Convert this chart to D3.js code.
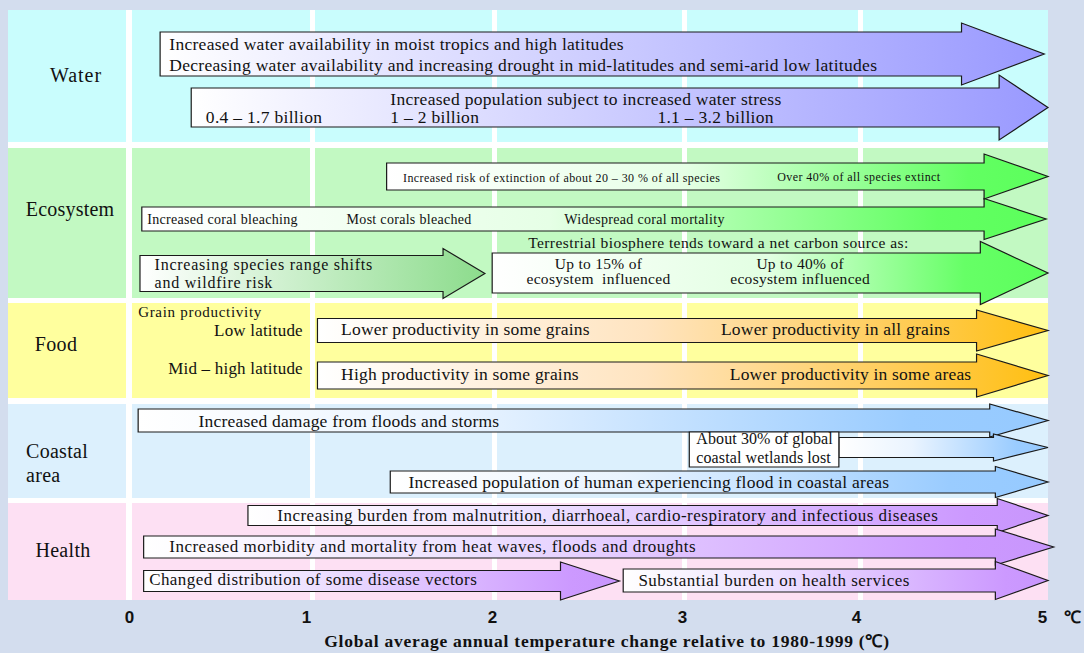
<!DOCTYPE html>
<html><head><meta charset="utf-8">
<script src="https://cdn.jsdelivr.net/npm/d3@7"></script>
<style>
html,body{margin:0;padding:0;background:#d3ddee;}
svg{display:block;}
</style></head><body>
<svg id="chart" width="1084" height="653"></svg>
<script>
// ---------------- DATA ----------------
const sectors = ["Water", "Ecosystem", "Food", "Coastal area", "Health"];
const sectorLabelLines = [["Water"], ["Ecosystem"], ["Food"], ["Coastal", "area"], ["Health"]];
const tickValues = [0, 1, 2, 3, 4, 5];
const axisTitle = "Global average annual temperature change relative to 1980-1999 (℃)";
const unitLabel = "℃";

// arrows (°C): start of body, start of head, tip
const arrowSector = ["Water", "Water", "Ecosystem", "Ecosystem", "Ecosystem", "Ecosystem", "Food", "Food",
  "Coastal area", "Coastal area", "Coastal area", "Coastal area", "Health", "Health", "Health", "Health"];
const arrowStart = [0.17, 0.34, 1.41, 0.07, 0.06, 1.99, 1.03, 1.03, 0.05, 3.88, 3.03, 1.43, 0.65, 0.08, 0.08, 2.68];
const arrowHeadAt = [4.54, 4.74, 4.66, 4.66, 1.72, 4.64, 4.62, 4.62, 4.69, 4.71, 3.88, 4.72, 4.73, 4.72, 2.35, 4.72];
const arrowEnd = [4.98, 5.0, 5.0, 4.99, 1.95, 5.0, 5.0, 5.0, 5.0, 5.0, 3.88, 5.0, 5.0, 5.03, 2.66, 5.0];

// annotations (°C position of the text)
const noteText = [
  "Increased water availability in moist tropics and high latitudes",
  "Decreasing water availability and increasing drought in mid-latitudes and semi-arid low latitudes",
  "Increased population subject to increased water stress",
  "0.4 – 1.7 billion", "1 – 2 billion", "1.1 – 3.2 billion",
  "Increased risk of extinction of about 20 – 30 % of all species",
  "Over 40% of all species extinct",
  "Increased coral bleaching", "Most corals bleached", "Widespread coral mortality",
  "Increasing species range shifts", "and wildfire risk",
  "Terrestrial biosphere tends toward a net carbon source as:",
  "Up to 15% of", "ecosystem  influenced", "Up to 40% of", "ecosystem influenced",
  "Grain productivity", "Low latitude", "Mid – high latitude",
  "Lower productivity in some grains", "Lower productivity in all grains",
  "High productivity in some grains", "Lower productivity in some areas",
  "Increased damage from floods and storms",
  "About 30% of global", "coastal wetlands lost",
  "Increased population of human experiencing flood in coastal areas",
  "Increasing burden from malnutrition, diarrhoeal, cardio-respiratory and infectious diseases",
  "Increased morbidity and mortality from heat waves, floods and droughts",
  "Changed distribution of some disease vectors",
  "Substantial burden on health services"
];
const noteX = [0.22, 0.22, 1.43, 0.42, 1.43, 2.86, 1.50, 3.53, 0.10, 1.19, 2.37, 0.14, 0.14, 2.18,
  2.55, 2.55, 3.66, 3.66, 0.05, 0.95, 0.95, 1.16, 3.21, 1.16, 3.26, 0.38, 3.07, 3.07, 1.53, 0.81, 0.22, 0.11, 2.76];

// ---------------- LAYOUT / STYLE ----------------
const W = 1084, H = 653;
const plotLeft = 8, plotTop = 10, plotRight = 1048, plotBottom = 600;
const tickPx = [129, 312, 494, 684, 860, 1048];
const tickLabelShift = [0, -6, -2, -2, -4, -6];
const rowTop = [10, 148, 303, 404, 503];
const rowBottom = [142, 298, 398, 498, 600];
const rowColor = ["#c9fdfd", "#c2f9c2", "#ffff9e", "#dcf0fd", "#fde0f3"];
const labelX = [76, 70, 56, 26, 63];
const labelAnchor = ["middle", "middle", "middle", "start", "middle"];
const labelY = [[82], [216], [351], [458, 482], [557]];
const labelSpacing = [1.0, 0.2, 0.4, 0.3, 0.3];

// per arrow: centre y, body half height, head half height, gradient
const arrowGeom = [
  [54, 22, 31, "water"], [107.5, 19.5, 32.5, "water"],
  [176.5, 13.5, 22.5, "green"], [219, 12, 20.5, "green"], [273.5, 18, 25, "greenDark"], [273, 20, 31.5, "green2"],
  [330.5, 12, 20.5, "food"], [375.5, 13.5, 21.5, "food"],
  [420.5, 11.5, 16.5, "coast"], [447.5, 10, 13.5, "coast"], [449.5, 17.5, 17.5, "white"], [482, 11, 15.5, "coast"],
  [515.5, 10, 17, "health"], [547, 11, 18, "health"], [581, 10.5, 19, "health"], [580.5, 11.5, 19, "health"]
];
const gradients = {
  water: [[0, "#ffffff"], [1, "#9999ff"]],
  green: [[0, "#ffffff"], [0.45, "#e6ffe6"], [0.88, "#62ff62"], [1, "#5cff5c"]],
  green2: [[0, "#ffffff"], [0.5, "#e2ffe2"], [0.85, "#66ff66"], [1, "#5cff5c"]],
  greenDark: [[0, "#ffffff"], [1, "#8cdc8c"]],
  food: [[0, "#ffffff"], [0.45, "#ffe4c0"], [0.82, "#ffcb50"], [1, "#ffbf10"]],
  coast: [[0, "#ffffff"], [0.35, "#eaf4ff"], [0.85, "#9accff"], [1, "#96caff"]],
  health: [[0, "#ffffff"], [0.35, "#eee2ff"], [0.9, "#cc99ff"], [1, "#c896fc"]],
  white: [[0, "#ffffff"], [1, "#ffffff"]]
};
// per note: baseline y, font size, anchor, letter spacing
const noteGeom = [
  [50, 17.5, "start", 0.3], [71, 17.5, "start", 0.3], [105, 17.5, "start", 0.3],
  [123, 17.5, "start", 0.3], [123, 17.5, "start", 0.3], [123, 17.5, "start", 0.3],
  [182, 12, "start", 0.42], [181, 12, "start", 0.42],
  [224, 14, "start", 0.3], [224, 14, "start", 0.3], [224, 14, "start", 0.3],
  [269.5, 16, "start", 0.75], [288, 16, "start", 0.75],
  [248, 15.5, "start", 0.42],
  [269, 15.5, "middle", 0.3], [284, 15.5, "middle", 0.3], [269, 15.5, "middle", 0.3], [284, 15.5, "middle", 0.3],
  [317, 15, "start", 0.7], [336, 17, "end", 0.2], [374, 17, "end", 0.2],
  [335, 17.5, "start", 0.2], [335, 17.5, "start", 0.2], [380, 17.5, "start", 0.2], [380, 17.5, "start", 0.2],
  [427, 17.5, "start", 0.2],
  [444, 16, "start", 0.1], [463, 16, "start", 0.1],
  [488, 17.5, "start", 0.25],
  [521, 17, "start", 0.5], [552, 17, "start", 0.5], [585, 17, "start", 0.45], [586, 17, "start", 0.5]
];
const serif = "'Liberation Serif', 'Times New Roman', serif";

// ---------------- DRAW ----------------
const svg = d3.select("#chart");
const x = d3.scaleLinear().domain(tickValues).range(tickPx);

svg.append("rect").attr("width", W).attr("height", H).attr("fill", "#d3ddee");
svg.append("rect").attr("x", plotLeft).attr("y", plotTop)
  .attr("width", plotRight - plotLeft).attr("height", plotBottom - plotTop).attr("fill", "#ffffff");

// gradients
const defs = svg.append("defs");
Object.entries(gradients).forEach(([k, stops]) => {
  const g = defs.append("linearGradient").attr("id", "g-" + k)
    .attr("x1", "0%").attr("x2", "100%").attr("y1", "0%").attr("y2", "0%");
  stops.forEach(s => g.append("stop").attr("offset", s[0]).attr("stop-color", s[1]));
});

// cells
const cells = [];
sectors.forEach((s, i) => {
  cells.push({ x0: plotLeft, x1: x(0) - 3, i });
  for (let c = 0; c < tickValues.length - 1; c++) {
    const last = c === tickValues.length - 2;
    cells.push({ x0: x(tickValues[c]) + 3, x1: last ? x(tickValues[c + 1]) : x(tickValues[c + 1]) - 2, i });
  }
});
svg.append("g").selectAll("rect").data(cells).join("rect")
  .attr("x", d => d.x0).attr("width", d => d.x1 - d.x0)
  .attr("y", d => rowTop[d.i]).attr("height", d => rowBottom[d.i] - rowTop[d.i])
  .attr("fill", d => rowColor[d.i]);

// sector labels
const lab = svg.append("g").attr("font-family", serif).attr("font-size", 20).attr("fill", "#111");
sectorLabelLines.forEach((lines, i) => {
  lines.forEach((t, j) => {
    lab.append("text").attr("x", labelX[i]).attr("y", labelY[i][j])
      .attr("text-anchor", labelAnchor[i]).attr("letter-spacing", labelSpacing[i]).text(t);
  });
});

// arrows
const arrows = arrowStart.map((s, i) => ({
  x0: x(s), xh: x(arrowHeadAt[i]), x1: x(arrowEnd[i]),
  cy: arrowGeom[i][0], bh: arrowGeom[i][1], hh: arrowGeom[i][2], grad: arrowGeom[i][3]
}));
function arrowPath(d) {
  if (d.x1 <= d.xh) {
    return `M${d.x0},${d.cy - d.bh}H${d.x1}V${d.cy + d.bh}H${d.x0}Z`;
  }
  return `M${d.x0},${d.cy - d.bh}H${d.xh}V${d.cy - d.hh}L${d.x1},${d.cy}L${d.xh},${d.cy + d.hh}V${d.cy + d.bh}H${d.x0}Z`;
}
svg.append("g").selectAll("path").data(arrows).join("path")
  .attr("d", arrowPath)
  .attr("fill", d => `url(#g-${d.grad})`)
  .attr("stroke", "#1a1a1a").attr("stroke-width", 1.2).attr("stroke-linejoin", "miter");

// notes
svg.append("g").attr("font-family", serif).attr("fill", "#111")
  .selectAll("text").data(noteText).join("text")
  .attr("x", (t, i) => x(noteX[i]))
  .attr("y", (t, i) => noteGeom[i][0])
  .attr("font-size", (t, i) => noteGeom[i][1])
  .attr("text-anchor", (t, i) => noteGeom[i][2])
  .attr("letter-spacing", (t, i) => noteGeom[i][3])
  .attr("xml:space", "preserve")
  .style("white-space", "pre")
  .text(t => t);

// axis
const axis = d3.axisBottom(x).tickValues(tickValues).tickSize(0).tickPadding(0).tickFormat(d3.format("d"));
const ax = svg.append("g").attr("transform", "translate(0,611)").call(axis);
ax.select(".domain").remove();
ax.selectAll("text").attr("font-family", "'Liberation Sans', Arial, sans-serif")
  .attr("font-weight", "bold").attr("font-size", 17).attr("fill", "#111")
  .attr("dx", (d, i) => tickLabelShift[i]);
svg.append("text").attr("x", x(5) + 24).attr("y", 623).attr("text-anchor", "middle")
  .attr("font-family", "'Liberation Sans', Arial, sans-serif").attr("font-weight", "bold")
  .attr("font-size", 17).attr("fill", "#111").text(unitLabel);
svg.append("text").attr("x", 607).attr("y", 647).attr("text-anchor", "middle")
  .attr("font-family", serif).attr("font-weight", "bold").attr("font-size", 17.5)
  .attr("letter-spacing", 0.75)
  .attr("fill", "#111").text(axisTitle);
</script></body></html>
